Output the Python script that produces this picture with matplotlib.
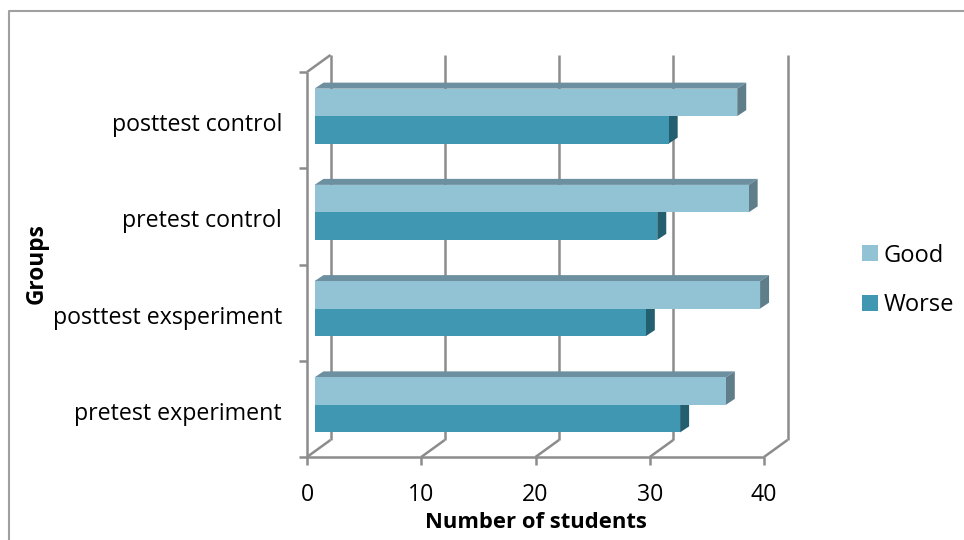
import matplotlib
matplotlib.use("Agg")
import matplotlib.pyplot as plt
from matplotlib.lines import Line2D
from matplotlib.transforms import Affine2D
import numpy as np

categories = ["pretest experiment", "posttest exsperiment", "pretest control", "posttest control"]
good = [36, 39, 38, 37]
worse = [32, 29, 30, 31]
xticks = [0, 10, 20, 30, 40]
xlabel = "Number of students"
ylabel = "Groups"

W, H = 964, 540
plt.rcParams["font.family"] = ["Open Sans", "DejaVu Sans"]
fig = plt.figure(figsize=(W / 100, H / 100), dpi=100)
# front plane of the 3D box
L, R, T, B = 307, 764, 72, 457
ax = fig.add_axes([L / W, 1 - B / H, (R - L) / W, (B - T) / H])
ax.set_xlim(0, 40)
ax.set_ylim(0, 4)
ax.patch.set_alpha(0)
for s in ax.spines.values():
    s.set_visible(False)

ux = (R - L) / 40   # px per value
uy = (B - T) / 4    # px per category band
GRID = "#8C8C8C"
wall_dx, wall_dy = 23.5 / ux, 17 / uy    # depth of the box
bar_sx, bar_sy = 7.5 / ux, 4 / uy        # where bar front faces sit in the box
depth_dx, depth_dy = 9 / ux, 6 / uy      # depth of each bar
bh = 27.5 / uy

def gl(xs, ys):
    ax.plot(xs, ys, color=GRID, lw=1.8, clip_on=False, solid_capstyle="butt", zorder=1)

# back wall gridlines and floor diagonals
for v in xticks:
    gl([v + wall_dx, v + wall_dx], [wall_dy, 4 + wall_dy])
    gl([v, v + wall_dx], [0, wall_dy])
# front axes
gl([0, 0], [0, 4])
gl([0, wall_dx], [4, 4 + wall_dy])
gl([0, 40], [0, 0])

y = np.arange(len(categories)) + 0.5 + bar_sy

def bars(vals, yc, face, top, side, label):
    ax.barh(yc, vals, height=bh, left=bar_sx, color=face, edgecolor="none",
            label=label, zorder=3, clip_on=False)
    for v, c in zip(vals, yc):
        x1 = bar_sx + v
        ax.fill([bar_sx, x1, x1 + depth_dx, bar_sx + depth_dx],
                [c + bh / 2, c + bh / 2, c + bh / 2 + depth_dy, c + bh / 2 + depth_dy],
                color=top, lw=0, zorder=2, clip_on=False)
        ax.fill([x1, x1 + depth_dx, x1 + depth_dx, x1],
                [c - bh / 2, c - bh / 2 + depth_dy, c + bh / 2 + depth_dy, c + bh / 2],
                color=side, lw=0, zorder=2, clip_on=False)

bars(worse, y - bh / 2, "#3F97B2", "#2F7185", "#235F6F", "Worse")
bars(good, y + bh / 2, "#92C3D5", "#6C909F", "#5F7E8A", "Good")

ax.set_xticks(xticks)
ax.set_yticks(range(5))
ax.set_yticklabels([])
ax.set_yticks(np.arange(4) + 0.5, minor=True)
ax.set_yticklabels(categories, minor=True, fontsize=16.7)
ax.tick_params(axis="x", which="major", length=5.8, width=1.8, color=GRID, labelsize=16.7, pad=13)
ax.tick_params(axis="y", which="major", length=5.8, width=1.8, color=GRID)
ax.tick_params(axis="y", which="minor", length=0, pad=18)
for t in ax.get_yticklabels(minor=True):
    t.set_transform(t.get_transform() + Affine2D().translate(0, -2))
ax.set_xlabel(xlabel, fontsize=15.8, fontweight="bold", va="center")
ax.xaxis.set_label_coords(536 / W, 1 - 523 / H, transform=fig.transFigure)
ax.set_ylabel(ylabel, fontsize=16.3, fontweight="bold", va="center")
ax.yaxis.set_label_coords(37 / W, 1 - 264 / H, transform=fig.transFigure)

handles, labels = ax.get_legend_handles_labels()
order = [labels.index("Good"), labels.index("Worse")]
leg = fig.legend([handles[i] for i in order], [labels[i] for i in order],
                 loc="center left", bbox_to_anchor=(862 / W, 1 - 280.5 / H), frameon=False,
                 fontsize=17, handlelength=0.68, handleheight=0.68, handletextpad=0.22,
                 labelspacing=1.1, borderpad=0, borderaxespad=0)

# chart frame: left and top edges
fig.add_artist(Line2D([8.5 / W, 8.5 / W, 1], [0, 1 - 11 / H, 1 - 11 / H],
                      color="#A0A0A0", lw=1.5, transform=fig.transFigure))

fig.savefig("out.png", dpi=100)
